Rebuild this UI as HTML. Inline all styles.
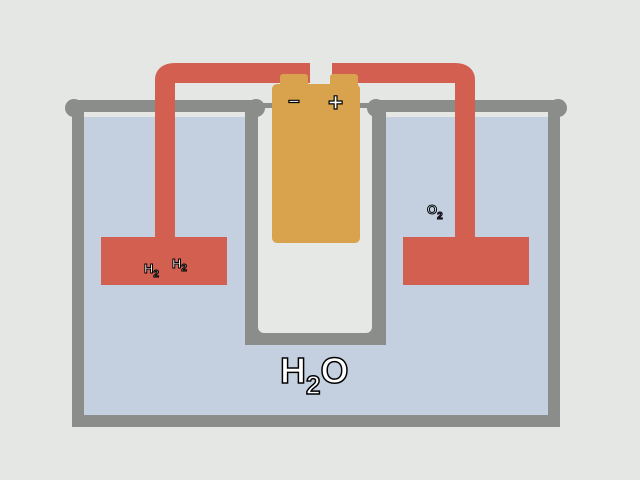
<!DOCTYPE html>
<html><head><style>
body{margin:0;background:#e4e7e4;}
svg{display:block}
text{font-family:"Liberation Sans",sans-serif;font-weight:bold;}
</style></head><body>
<svg width="640" height="480" viewBox="0 0 640 480">
<rect width="640" height="480" fill="#e4e7e4"/>
<rect x="84" y="117" width="464" height="298" fill="#c4d0e0"/>
<rect x="245" y="103" width="141" height="242" fill="#8b8d8b"/>
<rect x="258" y="108" width="114" height="225" rx="6" fill="#e6e8e5"/>
<rect x="72" y="105" width="12" height="322" fill="#8b8d8b"/>
<rect x="548" y="105" width="12" height="322" fill="#8b8d8b"/>
<rect x="72" y="415" width="488" height="12" fill="#8b8d8b"/>
<rect x="70" y="100" width="190" height="12" fill="#8b8d8b"/>
<rect x="372" y="100" width="190" height="12" fill="#8b8d8b"/>
<circle cx="74" cy="108" r="9" fill="#8b8d8b"/>
<circle cx="256" cy="108" r="9" fill="#8b8d8b"/>
<circle cx="376" cy="108" r="9" fill="#8b8d8b"/>
<circle cx="558" cy="108" r="9" fill="#8b8d8b"/>
<rect x="245" y="108" width="13" height="237" fill="#8b8d8b"/>
<rect x="372" y="108" width="14" height="237" fill="#8b8d8b"/>
<path d="M165 240 V80 Q165 73 175 73 H310" fill="none" stroke="#d25f4f" stroke-width="20"/>
<path d="M465 240 V80 Q465 73 455 73 H332" fill="none" stroke="#d25f4f" stroke-width="20"/>
<rect x="101" y="237" width="126" height="48" fill="#d25f4f"/>
<rect x="403" y="237" width="126" height="48" fill="#d25f4f"/>
<rect x="280" y="74" width="28" height="14" rx="3" fill="#d9a24c"/>
<rect x="330" y="74" width="28" height="14" rx="3" fill="#d9a24c"/>
<rect x="272" y="84" width="88" height="159" rx="5" fill="#d9a24c"/>
<text x="288" y="108" font-size="20" fill="#fff" stroke="#000" stroke-width="1.2">−</text>
<text x="328" y="111" font-size="26" fill="#fff" stroke="#000" stroke-width="1.2">+</text>
<text x="144" y="273" font-size="13" fill="#fff" stroke="#000" stroke-width="1">H<tspan font-size="10" dy="4">2</tspan></text>
<text x="172" y="268" font-size="13" fill="#fff" stroke="#000" stroke-width="1">H<tspan font-size="10" dy="3">2</tspan></text>
<text x="427" y="214" font-size="13" fill="#cde" stroke="#000" stroke-width="1">O<tspan font-size="10" dy="5" fill="#a8f">2</tspan></text>
<text x="280" y="383" font-size="36" fill="#fff" stroke="#000" stroke-width="1.5">H<tspan font-size="26" dy="11">2</tspan><tspan dy="-11">O</tspan></text>
</svg>
</body></html>
